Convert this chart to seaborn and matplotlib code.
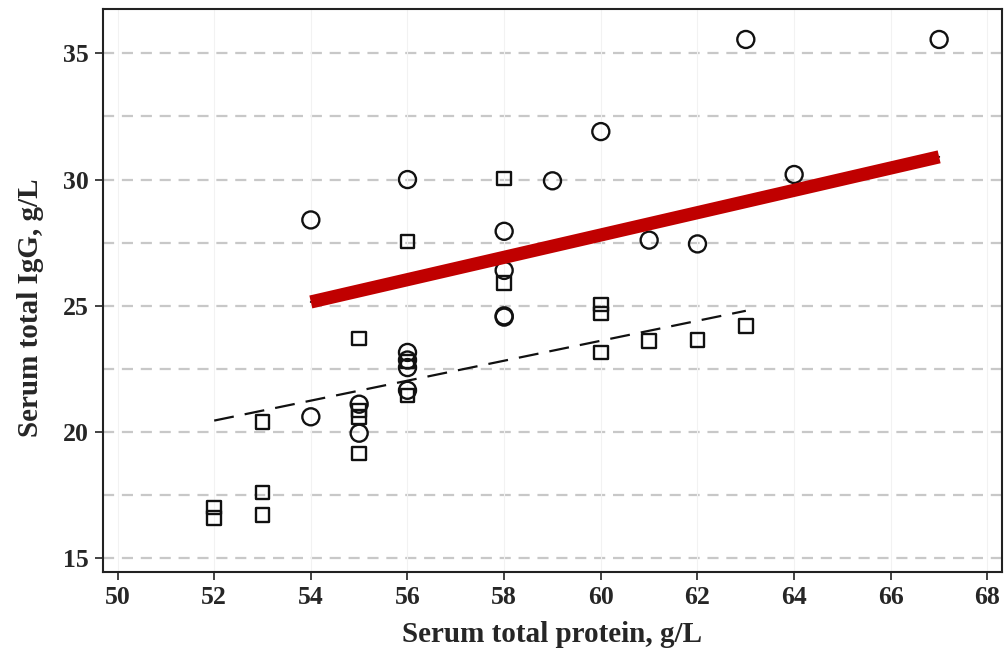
import numpy as np
import pandas as pd
import matplotlib
matplotlib.use("Agg")
import matplotlib.pyplot as plt
import seaborn as sns

# Group A (circles)
circle_protein = [54, 54, 55, 55, 56, 56, 56, 56, 56, 58, 58, 58, 58, 59, 60, 61, 62, 63, 64, 67]
circle_igg = [28.4, 20.6, 21.1, 19.95, 30.0, 23.15, 22.85, 22.55, 21.65, 27.95, 26.4, 24.6, 24.55,
              29.95, 31.9, 27.6, 27.45, 35.55, 30.2, 35.55]

# Group B (squares)
square_protein = [52, 52, 53, 53, 53, 55, 55, 55, 55, 56, 56, 56, 58, 58, 60, 60, 60, 61, 62, 63]
square_igg = [17.0, 16.6, 20.4, 17.6, 16.7, 23.7, 20.85, 20.6, 19.15, 27.55, 22.8, 21.45,
              30.05, 25.9, 25.05, 24.7, 23.15, 23.6, 23.65, 24.2]

# Fitted lines (end points)
fit_a_x = [54, 67]
fit_a_y = [25.15, 30.9]
fit_b_x = [52, 63]
fit_b_y = [20.45, 24.8]

x_ticks = [50, 52, 54, 56, 58, 60, 62, 64, 66, 68]
y_ticks = [15, 20, 25, 30, 35]
y_grid = [15, 17.5, 20, 22.5, 25, 27.5, 30, 32.5, 35]

sns.set_theme(style="white")
plt.rcParams["font.family"] = ["Liberation Serif", "DejaVu Serif"]

fig = plt.figure(figsize=(10.07, 6.56), dpi=100)
ax = fig.add_axes([0.1023, 0.128, 0.8927, 0.858])

for gy in y_grid:
    ax.axhline(gy, color="#c8c8c8", lw=1.6, ls=(0, (5, 3.5)), zorder=0)
for gx in x_ticks:
    ax.axvline(gx, color="#f2f2f2", lw=0.8, zorder=0)

df_a = pd.DataFrame({"protein": circle_protein, "igg": circle_igg})
df_b = pd.DataFrame({"protein": square_protein, "igg": square_igg})

sns.scatterplot(data=df_a, x="protein", y="igg", ax=ax, marker="o", s=150,
                facecolor="none", edgecolor="#111111", linewidth=1.7, zorder=3)
sns.scatterplot(data=df_b, x="protein", y="igg", ax=ax, marker="s", s=95,
                facecolor="none", edgecolor="#111111", linewidth=1.7, zorder=3)

sns.lineplot(x=fit_a_x, y=fit_a_y, ax=ax, color="#111111", lw=1.5, zorder=4)
sns.lineplot(x=fit_a_x, y=fit_a_y, ax=ax, color="#c00000", lw=9.5, zorder=5,
             solid_capstyle="butt")
sns.lineplot(x=fit_b_x, y=fit_b_y, ax=ax, color="#111111", lw=1.6, zorder=4,
             linestyle=(0, (9, 5)))

ax.set_xlim(49.7, 68.3)
ax.set_ylim(14.45, 36.75)
ax.set_xticks(x_ticks)
ax.set_yticks(y_ticks)
ax.set_xticklabels([str(v) for v in x_ticks])
ax.set_yticklabels([str(v) for v in y_ticks])

ax.tick_params(axis="both", which="major", direction="out", length=6, width=1.2,
               color="#222222", labelsize=18.5, pad=4, bottom=True, left=True)
for lab in ax.get_xticklabels() + ax.get_yticklabels():
    lab.set_fontweight("bold")

for sp in ax.spines.values():
    sp.set_visible(True)
    sp.set_color("#222222")
    sp.set_linewidth(1.5)

ax.set_xlabel("Serum total protein, g/L", fontsize=21, fontweight="bold", labelpad=9)
ax.set_ylabel("Serum total IgG, g/L", fontsize=21, fontweight="bold", labelpad=13)
ax.yaxis.set_label_coords(-0.066, 0.47)

fig.savefig("out.png", dpi=100, facecolor="white")
